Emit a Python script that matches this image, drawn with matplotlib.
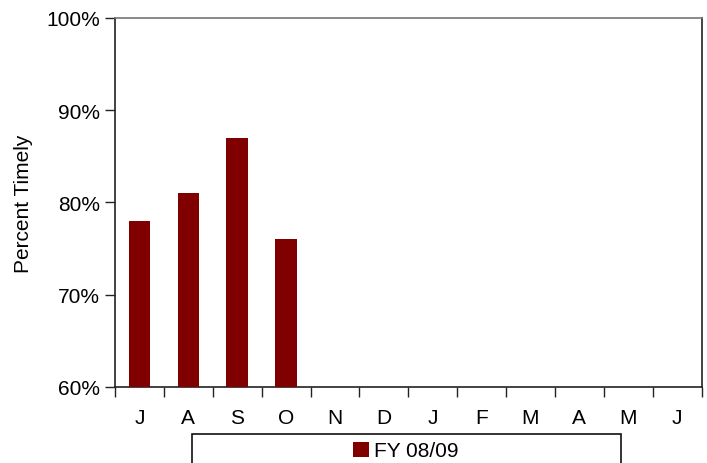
import matplotlib
matplotlib.use("Agg")
import matplotlib.pyplot as plt
from matplotlib.patches import Rectangle
from matplotlib.ticker import FuncFormatter

plt.rcParams['font.family'] = ['Liberation Sans', 'DejaVu Sans']

months = ['J', 'A', 'S', 'O', 'N', 'D', 'J', 'F', 'M', 'A', 'M', 'J']
values = [78, 81, 87, 76]
series_name = 'FY 08/09'
yticks = [60, 70, 80, 90, 100]

fig = plt.figure(figsize=(7.07, 4.64), dpi=100)
ax = fig.add_axes([115/707, 1-388/464, (701.5-115)/707, (388-19)/464])

x = list(range(len(months)))
ax.bar(x[:len(values)], values, width=0.44, color='#800000', edgecolor='none',
       label=series_name, zorder=3)

ax.set_xlim(-0.5, len(months)-0.5)
ax.set_ylim(60, 100)
ax.set_yticks(yticks)
ax.yaxis.set_major_formatter(FuncFormatter(lambda v, p: f"{v:.0f}%"))
ax.set_xticks([i - 0.5 for i in range(len(months)+1)], minor=False)
ax.set_xticklabels([])
ax.set_xticks(x, minor=True)
ax.set_xticklabels(months, minor=True)
ax.tick_params(axis='x', which='minor', length=0, pad=15, labelsize=15)
ax.tick_params(axis='x', which='major', length=7, width=1, color='#222222')
ax.tick_params(axis='y', length=7, width=1, pad=4, labelsize=15, color='#222222')

for s in ['left', 'bottom']:
    ax.spines[s].set_color('#222222')
    ax.spines[s].set_linewidth(1.2)
ax.spines['top'].set_color('#777777')
ax.spines['top'].set_linewidth(1.2)
ax.spines['right'].set_color('#222222')
ax.spines['right'].set_linewidth(1.2)

ax.set_ylabel('Percent Timely', fontsize=15)
ax.yaxis.set_label_coords(-(115-33)/586.5, 0.5)

# legend box
fig.patches.append(Rectangle((192/707, -0.02), (621-192)/707, 0.02 + 1-435/464,
                             transform=fig.transFigure, fill=False,
                             edgecolor='#111111', linewidth=1.2))
handles, labels = ax.get_legend_handles_labels()
fig.legend(handles, labels, loc='center', bbox_to_anchor=(406/707, 1-452/464),
           frameon=False, fontsize=15, handlelength=0.75, handleheight=0.75,
           handletextpad=0.25, borderpad=0)

fig.savefig('out.png', dpi=100)
